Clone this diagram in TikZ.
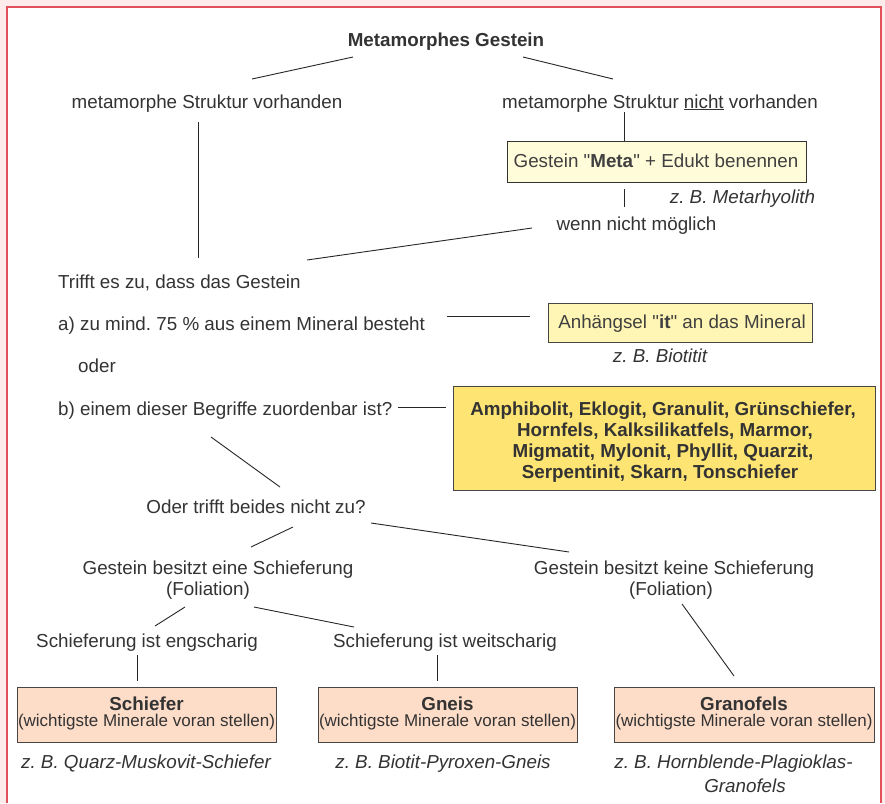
\documentclass[tikz,border=0pt]{standalone}
\usepackage{fontspec}
\setmainfont{Liberation Sans}[Ligatures=TeXOff]
\definecolor{tc}{RGB}{51,51,51}
\definecolor{bgpink}{RGB}{253,236,235}
\definecolor{redline}{RGB}{226,80,90}
\definecolor{metafill}{RGB}{255,252,217}
\definecolor{itfill}{RGB}{255,245,180}
\definecolor{bigfill}{RGB}{253,228,115}
\definecolor{peach}{RGB}{253,220,200}
\definecolor{bc}{RGB}{70,70,70}
\frenchspacing
\begin{document}
\begin{tikzpicture}[x=1pt,y=-1pt,
  txt/.style={text=tc, inner sep=0pt, anchor=base, font=\fontsize{18.8}{21}\selectfont},
  txtl/.style={txt, anchor=base west},
  bold/.style={txt, font=\fontsize{18.8}{21}\selectfont\bfseries},
  ex/.style={txt, font=\fontsize{18.8}{21}\selectfont\itshape},
  sub/.style={txt, font=\fontsize{17}{20}\selectfont},
  ln/.style={draw=black!85, line width=0.9pt},
  box/.style={draw=bc, line width=1pt, inner sep=0pt}]
\useasboundingbox (0,0) rectangle (885,803);
\fill[bgpink] (0,0) rectangle (885,803);
\fill[white] (7,7) rectangle (881,803);
\draw[redline, line width=1.6pt] (7,803) -- (7,7) -- (881,7) -- (881,803);

% boxes
\node[box, fill=metafill, draw=black!80, minimum width=299pt, minimum height=41pt] (metabox) at (656.5,161.5) {};
\node[box, fill=itfill, minimum width=264pt, minimum height=39pt] (itbox) at (680,322.5) {};
\node[box, fill=bigfill, minimum width=422pt, minimum height=104pt] (bigbox) at (664,438) {};
\node[box, fill=peach, minimum width=259pt, minimum height=55pt] (schbox) at (146.5,714.5) {};
\node[box, fill=peach, minimum width=259pt, minimum height=55pt] (gnbox) at (447.5,714.5) {};
\node[box, fill=peach, minimum width=260pt, minimum height=55pt] (grbox) at (744,714.5) {};

% texts
\node[bold] (title) at (446,46) {Metamorphes Gestein};
\node[txt] (vorh) at (207,108) {metamorphe Struktur vorhanden};
\node[txt] (nvorh) at (660,108) {metamorphe Struktur \underline{nicht} vorhanden};
\node[txt, text=black!75] (metatxt) at (656,167) {Gestein "\textbf{Meta}" + Edukt benennen};
\node[ex] (metaex) at (742.5,203) {z. B. Metarhyolith};
\node[txt] (wenn) at (636.5,230) {wenn nicht möglich};
\node[txtl] (trifft) at (58,288) {Trifft es zu, dass das Gestein};
\node[txtl] (qa) at (58,330) {a) zu mind. 75 \% aus einem Mineral besteht};
\node[txtl] (oder) at (78,372) {oder};
\node[txtl] (qb) at (58,415) {b) einem dieser Begriffe zuordenbar ist?};
\node[txt, text=black!75] (ittxt) at (682,328) {Anhängsel "\textbf{it}" an das Mineral};
\node[ex] (itex) at (660,362) {z. B. Biotitit};
\node[bold] (big1) at (663,415) {Amphibolit, Eklogit, Granulit, Grünschiefer,};
\node[bold] (big2) at (665,436) {Hornfels, Kalksilikatfels, Marmor,};
\node[bold] (big3) at (663,457) {Migmatit, Mylonit, Phyllit, Quarzit,};
\node[bold] (big4) at (660,478) {Serpentinit, Skarn, Tonschiefer};
\node[txt] (beides) at (256,513) {Oder trifft beides nicht zu?};
\node[txt] (fol1) at (218,574) {Gestein besitzt eine Schieferung};
\node[txt] (fol1b) at (208,595) {(Foliation)};
\node[txt] (fol2) at (674,574) {Gestein besitzt keine Schieferung};
\node[txt] (fol2b) at (671,595) {(Foliation)};
\node[txt] (eng) at (147,647) {Schieferung ist engscharig};
\node[txt] (weit) at (445,647) {Schieferung ist weitscharig};
\node[bold] (scht) at (146.5,710) {Schiefer};
\node[sub] (schs) at (146.5,726) {(wichtigste Minerale voran stellen)};
\node[bold] (gnt) at (447.5,710) {Gneis};
\node[sub] (gns) at (447.5,726) {(wichtigste Minerale voran stellen)};
\node[bold] (grt) at (744,710) {Granofels};
\node[sub] (grs) at (744,726) {(wichtigste Minerale voran stellen)};
\node[ex] (schex) at (146,768) {z. B. Quarz-Muskovit-Schiefer};
\node[ex] (gnex) at (443,768) {z. B. Biotit-Pyroxen-Gneis};
\node[ex] (grex1) at (733.5,768) {z. B. Hornblende-Plagioklas-};
\node[ex] (grex2) at (745,792) {Granofels};

% connector end points
\coordinate (a1) at (252,79);  \coordinate (a2) at (353,57);
\coordinate (b1) at (523,57);  \coordinate (b2) at (613,79);
\coordinate (c1) at (198,122); \coordinate (c2) at (198,258);
\coordinate (d1) at (624,112);
\coordinate (e1) at (624,189); \coordinate (e2) at (624,207);
\coordinate (f1) at (532,228); \coordinate (f2) at (307,260);
\coordinate (g1) at (447,316); \coordinate (g2) at (530,316);
\coordinate (h1) at (398,407); \coordinate (h2) at (446,407);
\coordinate (i1) at (211,437); \coordinate (i2) at (280,487);
\coordinate (j1) at (293,527); \coordinate (j2) at (251,547);
\coordinate (k1) at (371,523); \coordinate (k2) at (569,552);
\coordinate (l1) at (185,607); \coordinate (l2) at (155,626);
\coordinate (m1) at (254,607); \coordinate (m2) at (354,627);
\coordinate (n1) at (682,604); \coordinate (n2) at (734,676);
\coordinate (o1) at (137,655); \coordinate (o2) at (137,681);
\coordinate (p1) at (437,655); \coordinate (p2) at (437,681);

\draw[ln] (a1) -- (a2);
\draw[ln] (b1) -- (b2);
\draw[ln] (c1) -- (c2);
\draw[ln] (d1) -- (metabox.north -| d1);
\draw[ln] (e1) -- (e2);
\draw[ln] (f1) -- (f2);
\draw[ln] (g1) -- (g2);
\draw[ln] (h1) -- (h2);
\draw[ln] (i1) -- (i2);
\draw[ln] (j1) -- (j2);
\draw[ln] (k1) -- (k2);
\draw[ln] (l1) -- (l2);
\draw[ln] (m1) -- (m2);
\draw[ln] (n1) -- (n2);
\draw[ln] (o1) -- (o2);
\draw[ln] (p1) -- (p2);
\end{tikzpicture}
\end{document}
